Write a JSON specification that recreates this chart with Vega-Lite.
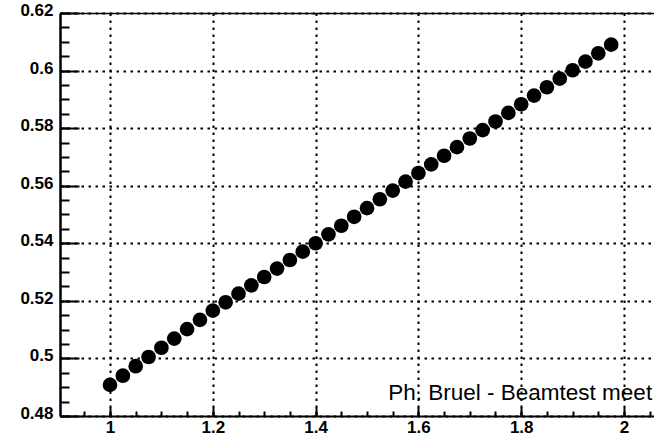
{
  "$schema": "https://vega.github.io/schema/vega-lite/v6.json",
  "width": 596,
  "height": 403,
  "autosize": {"type": "none"},
  "padding": {"left": 60, "top": 13, "right": 0, "bottom": 20},
  "background": "white",
  "config": {"view": {"stroke": null}},
  "datasets": {
    "points": [
      {"x": 1.000, "y": 0.4908}, {"x": 1.025, "y": 0.4940}, {"x": 1.050, "y": 0.4973}, {"x": 1.075, "y": 0.5005},
      {"x": 1.100, "y": 0.5037}, {"x": 1.125, "y": 0.5069}, {"x": 1.150, "y": 0.5102}, {"x": 1.175, "y": 0.5134},
      {"x": 1.200, "y": 0.5166}, {"x": 1.225, "y": 0.5195}, {"x": 1.250, "y": 0.5225}, {"x": 1.275, "y": 0.5254},
      {"x": 1.300, "y": 0.5283}, {"x": 1.325, "y": 0.5312}, {"x": 1.350, "y": 0.5342}, {"x": 1.375, "y": 0.5371},
      {"x": 1.400, "y": 0.5400}, {"x": 1.425, "y": 0.5431}, {"x": 1.450, "y": 0.5461}, {"x": 1.475, "y": 0.5492},
      {"x": 1.500, "y": 0.5522}, {"x": 1.525, "y": 0.5553}, {"x": 1.550, "y": 0.5583}, {"x": 1.575, "y": 0.5614},
      {"x": 1.600, "y": 0.5644}, {"x": 1.625, "y": 0.5674}, {"x": 1.650, "y": 0.5704}, {"x": 1.675, "y": 0.5734},
      {"x": 1.700, "y": 0.5764}, {"x": 1.725, "y": 0.5793}, {"x": 1.750, "y": 0.5823}, {"x": 1.775, "y": 0.5853},
      {"x": 1.800, "y": 0.5883}, {"x": 1.825, "y": 0.5913}, {"x": 1.850, "y": 0.5942}, {"x": 1.875, "y": 0.5972},
      {"x": 1.900, "y": 0.6001}, {"x": 1.925, "y": 0.6031}, {"x": 1.950, "y": 0.6060}, {"x": 1.975, "y": 0.6090}
    ],
    "note": [
      {"label": "Ph. Bruel - Beamtest meet", "x": 1.5414, "y": 0.4855}
    ]
  },
  "resolve": {"axis": {"x": "independent", "y": "independent"}},
  "layer": [
    {
      "data": {"name": "points"},
      "mark": {"type": "point", "opacity": 0},
      "encoding": {
        "x": {
          "field": "x", "type": "quantitative",
          "scale": {"domain": [0.90272, 2.06226], "nice": false, "zero": false},
          "axis": {
            "orient": "bottom", "title": null,
            "values": [0.95, 1, 1.05, 1.1, 1.15, 1.2, 1.25, 1.3, 1.35, 1.4, 1.45, 1.5, 1.55, 1.6, 1.65, 1.7, 1.75, 1.8, 1.85, 1.9, 1.95, 2, 2.05],
            "labels": false, "grid": false, "domain": false,
            "tickSize": -5, "tickColor": "black", "tickWidth": 2
          }
        },
        "y": {
          "field": "y", "type": "quantitative",
          "scale": {"domain": [0.48, 0.62], "nice": false, "zero": false},
          "axis": {
            "orient": "left", "title": null,
            "values": [0.48, 0.485, 0.49, 0.495, 0.5, 0.505, 0.51, 0.515, 0.52, 0.525, 0.53, 0.535, 0.54, 0.545, 0.55, 0.555, 0.56, 0.565, 0.57, 0.575, 0.58, 0.585, 0.59, 0.595, 0.6, 0.605, 0.61, 0.615, 0.62],
            "labels": false, "grid": false, "domain": false,
            "tickSize": -9, "tickColor": "black", "tickWidth": 2
          }
        }
      }
    },
    {
      "data": {"name": "points"},
      "mark": {"type": "point", "opacity": 0},
      "encoding": {
        "x": {
          "field": "x", "type": "quantitative",
          "axis": {
            "orient": "top", "title": null,
            "labels": false, "grid": false, "ticks": false,
            "domain": true, "domainColor": "black", "domainWidth": 1.5
          }
        },
        "y": {"field": "y", "type": "quantitative", "axis": null}
      }
    },
    {
      "data": {"name": "points"},
      "mark": {"type": "circle", "size": 215, "color": "black", "opacity": 1},
      "encoding": {
        "x": {
          "field": "x", "type": "quantitative",
          "axis": {
            "orient": "bottom", "title": null,
            "values": [1, 1.2, 1.4, 1.6, 1.8, 2],
            "format": "~g",
            "labelFont": "Liberation Sans", "labelFontSize": 17, "labelFontWeight": "bold", "labelColor": "black",
            "labelPadding": 12.8, "labelFlush": false, "labelOverlap": false,
            "tickSize": -9, "tickColor": "black", "tickWidth": 2,
            "domain": true, "domainColor": "black", "domainWidth": 2,
            "grid": true, "gridColor": "black", "gridDash": [2.5, 4.5], "gridWidth": 2, "gridOpacity": 1
          }
        },
        "y": {
          "field": "y", "type": "quantitative",
          "axis": {
            "orient": "left", "title": null,
            "values": [0.48, 0.5, 0.52, 0.54, 0.56, 0.58, 0.6, 0.62],
            "format": "~g",
            "labelFont": "Liberation Sans", "labelFontSize": 17, "labelFontWeight": "bold", "labelColor": "black",
            "labelPadding": 26, "labelOffset": -2.5, "labelFlush": false, "labelOverlap": false,
            "tickSize": -19, "tickColor": "black", "tickWidth": 2,
            "domain": true, "domainColor": "black", "domainWidth": 2.5,
            "grid": true, "gridColor": "black", "gridDash": [2.5, 4.5], "gridWidth": 2, "gridOpacity": 1
          }
        }
      }
    },
    {
      "data": {"name": "note"},
      "mark": {"type": "text", "align": "left", "baseline": "alphabetic", "font": "Liberation Sans", "fontSize": 22.5, "color": "black"},
      "encoding": {
        "x": {"field": "x", "type": "quantitative", "axis": null},
        "y": {"field": "y", "type": "quantitative", "axis": null},
        "text": {"field": "label"}
      }
    }
  ]
}
